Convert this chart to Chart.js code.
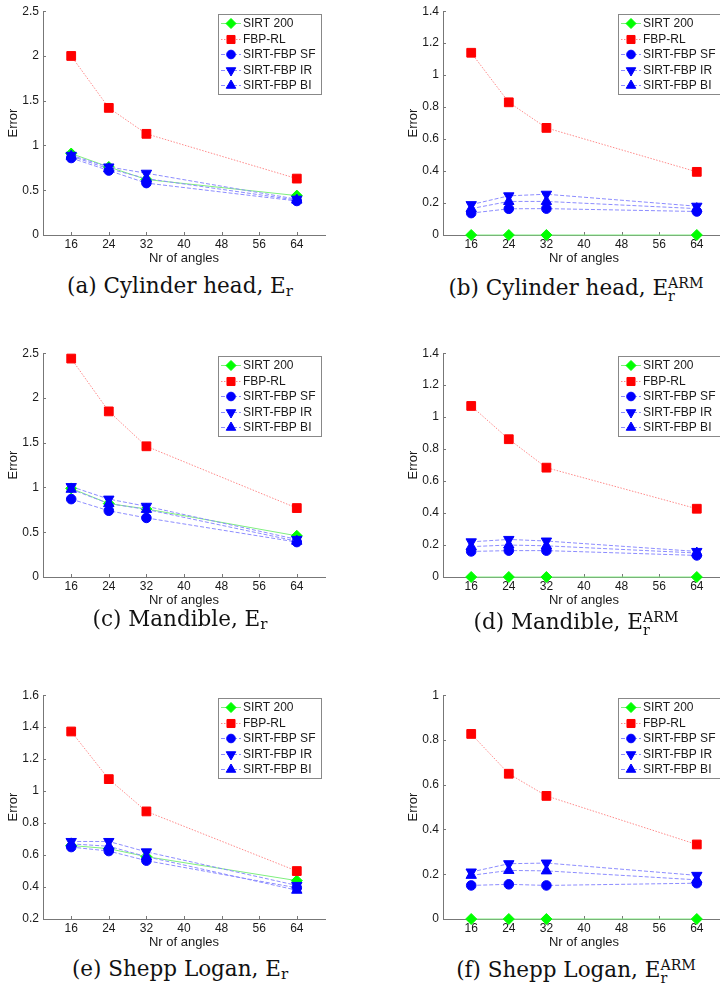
<!DOCTYPE html>
<html>
<head>
<meta charset="utf-8">
<script src="https://cdn.jsdelivr.net/npm/chart.js@4.4.1/dist/chart.umd.min.js"></script>
<style>
html, body { margin: 0; padding: 0; background: #fff; overflow: hidden; }
#page { position: relative; width: 720px; height: 986px; overflow: hidden; }
canvas { position: absolute; }
.cap { position: absolute; width: 360px; text-align: center; font-family: "DejaVu Serif", serif; font-size: 21.5px; line-height: 26px; color: #111; white-space: nowrap; }
.cap sub { font-size: 0.7em; vertical-align: -0.2em; line-height: 0; }
.ss { display: inline-block; font-size: 0.66em; line-height: 0.9; vertical-align: -6px; text-align: left; }
</style>
</head>
<body>
<div id="page">
<canvas id="cA" width="340" height="266" style="left:0;top:0"></canvas>
<canvas id="cB" width="340" height="266" style="left:400px;top:0"></canvas>
<canvas id="cC" width="340" height="266" style="left:0;top:342px"></canvas>
<canvas id="cD" width="340" height="266" style="left:400px;top:342px"></canvas>
<canvas id="cE" width="340" height="266" style="left:0;top:684px"></canvas>
<canvas id="cF" width="340" height="266" style="left:400px;top:684px"></canvas>
<div class="cap" style="left:0;top:273px">(a) Cylinder head, E<sub>r</sub></div>
<div class="cap" style="left:396px;top:275px">(b) Cylinder head, E<span class="ss">ARM<br>r</span></div>
<div class="cap" style="left:0;top:606px">(c) Mandible, E<sub>r</sub></div>
<div class="cap" style="left:396px;top:609px">(d) Mandible, E<span class="ss">ARM<br>r</span></div>
<div class="cap" style="left:0;top:956px">(e) Shepp Logan, E<sub>r</sub></div>
<div class="cap" style="left:396px;top:957px">(f) Shepp Logan, E<span class="ss">ARM<br>r</span></div>
</div>
<script>
var angles = [16, 24, 32, 64];
var xTicks = [16, 24, 32, 40, 48, 56, 64];
var seriesNames = ['SIRT 200', 'FBP-RL', 'SIRT-FBP SF', 'SIRT-FBP IR', 'SIRT-FBP BI'];

// (a) Cylinder head, Er
var cylSirt = [0.91, 0.76, 0.62, 0.44];
var cylFbp = [2.0, 1.42, 1.13, 0.63];
var cylSF = [0.86, 0.72, 0.58, 0.38];
var cylIR = [0.89, 0.76, 0.69, 0.40];
var cylBI = [0.88, 0.74, 0.63, 0.39];
var cylTicks = [0, 0.5, 1, 1.5, 2, 2.5];

// (b) Cylinder head, Er ARM
var cylArmSirt = [0, 0, 0, 0];
var cylArmFbp = [1.14, 0.83, 0.67, 0.395];
var cylArmSF = [0.137, 0.164, 0.165, 0.147];
var cylArmIR = [0.19, 0.245, 0.255, 0.18];
var cylArmBI = [0.165, 0.21, 0.21, 0.165];
var armTicks = [0, 0.2, 0.4, 0.6, 0.8, 1, 1.2, 1.4];

// (c) Mandible, Er
var manSirt = [0.99, 0.82, 0.76, 0.46];
var manFbp = [2.44, 1.85, 1.46, 0.77];
var manSF = [0.87, 0.74, 0.66, 0.39];
var manIR = [1.01, 0.87, 0.79, 0.42];
var manBI = [0.98, 0.82, 0.755, 0.40];

// (d) Mandible, Er ARM
var manArmSirt = [0, 0, 0, 0];
var manArmFbp = [1.07, 0.862, 0.684, 0.427];
var manArmSF = [0.16, 0.165, 0.165, 0.135];
var manArmIR = [0.22, 0.235, 0.225, 0.16];
var manArmBI = [0.19, 0.20, 0.195, 0.15];

// (e) Shepp Logan, Er
var sheSirt = [0.66, 0.64, 0.59, 0.44];
var sheFbp = [1.373, 1.075, 0.873, 0.50];
var sheSF = [0.65, 0.625, 0.565, 0.395];
var sheIR = [0.685, 0.685, 0.62, 0.41];
var sheBI = [0.67, 0.655, 0.59, 0.38];
var sheTicks = [0.2, 0.4, 0.6, 0.8, 1, 1.2, 1.4, 1.6];

// (f) Shepp Logan, Er ARM
var sheArmSirt = [0, 0, 0, 0];
var sheArmFbp = [0.827, 0.649, 0.55, 0.333];
var sheArmSF = [0.15, 0.155, 0.15, 0.16];
var sheArmIR = [0.21, 0.247, 0.25, 0.195];
var sheArmBI = [0.195, 0.217, 0.215, 0.175];
var sheArmTicks = [0, 0.2, 0.4, 0.6, 0.8, 1];

var axisColor = '#777';
var textColor = '#1a1a1a';
var fontName = '"Liberation Sans", Arial, sans-serif';

// marker + line look for each series, same order as seriesNames
var looks = [
  { mark: '#00ff00', line: '#7fef7f', dash: [], style: 'rectRot', r: 5.5, rot: 0 },
  { mark: '#ff0000', line: '#ff8a8a', dash: [1.5, 1.5], style: 'rect', r: 6.2, rot: 0 },
  { mark: '#0000ff', line: '#8c8cff', dash: [4, 2], style: 'circle', r: 4.8, rot: 0 },
  { mark: '#0000ff', line: '#8c8cff', dash: [4, 2], style: 'triangle', r: 6, rot: 180 },
  { mark: '#0000ff', line: '#8c8cff', dash: [4, 2], style: 'triangle', r: 6, rot: 0 }
];

// small tick marks pointing into the plot, like matlab
var innerTicks = {
  id: 'innerTicks',
  beforeDatasetsDraw: function(chart) {
    var ctx = chart.ctx, a = chart.chartArea;
    var sx = chart.scales.x, sy = chart.scales.y;
    ctx.save();
    ctx.strokeStyle = axisColor;
    ctx.lineWidth = 1;
    ctx.beginPath();
    sx.ticks.forEach(function(t) {
      var px = Math.round(sx.getPixelForValue(t.value)) + 0.5;
      ctx.moveTo(px, a.bottom);
      ctx.lineTo(px, a.bottom - 3);
    });
    sy.ticks.forEach(function(t) {
      var py = Math.round(sy.getPixelForValue(t.value)) + 0.5;
      ctx.moveTo(a.left, py);
      ctx.lineTo(a.left + 3, py);
    });
    ctx.stroke();
    ctx.restore();
  }
};

// legend box in the top right corner of the axes
var legendBox = {
  id: 'legendBox',
  afterDatasetsDraw: function(chart) {
    var ctx = chart.ctx, a = chart.chartArea;
    var w = 104, h = 81;
    var x0 = Math.round(a.right - 3 - w), y0 = Math.round(a.top + 3);
    ctx.save();
    ctx.fillStyle = '#fff';
    ctx.fillRect(x0, y0, w, h);
    ctx.strokeStyle = '#888';
    ctx.lineWidth = 1;
    ctx.strokeRect(x0 + 0.5, y0 + 0.5, w - 1, h - 1);
    ctx.font = '12px ' + fontName;
    ctx.textBaseline = 'middle';
    chart.data.datasets.forEach(function(ds, i) {
      var y = Math.round(y0 + 9 + i * 15.5) + 0.5;
      ctx.strokeStyle = ds.borderColor;
      ctx.setLineDash(ds.borderDash);
      ctx.beginPath();
      ctx.moveTo(x0 + 3, y);
      ctx.lineTo(x0 + 23, y);
      ctx.stroke();
      ctx.setLineDash([]);
      ctx.fillStyle = ds.pointBackgroundColor;
      ctx.strokeStyle = ds.pointBorderColor;
      Chart.helpers.drawPoint(ctx, { pointStyle: ds.pointStyle, radius: ds.pointRadius - 0.5, rotation: ds.pointRotation, borderWidth: 1 }, x0 + 13, y);
      ctx.fillStyle = textColor;
      ctx.fillText(ds.label, x0 + 25, y + 0.5);
    });
    ctx.restore();
  }
};

function makePanel(id, yMin, yMax, yTicks, values) {
  var datasets = values.map(function(vals, i) {
    var lk = looks[i];
    return {
      label: seriesNames[i],
      data: angles.map(function(x, j) { return { x: x, y: vals[j] }; }),
      borderColor: lk.line,
      borderWidth: 1,
      borderDash: lk.dash,
      pointStyle: lk.style,
      pointRadius: lk.r,
      pointRotation: lk.rot,
      pointBackgroundColor: lk.mark,
      pointBorderColor: lk.mark,
      pointBorderWidth: 1,
      tension: 0,
      clip: false,
      order: 5 - i
    };
  });
  var tickFont = { family: fontName, size: 12 };
  var titleFont = { family: fontName, size: 13 };
  return new Chart(document.getElementById(id), {
    type: 'line',
    data: { datasets: datasets },
    options: {
      responsive: false,
      animation: false,
      devicePixelRatio: 1,
      events: [],
      layout: { padding: { top: 11, left: 0, right: 15, bottom: 0 } },
      plugins: { legend: { display: false }, tooltip: { enabled: false } },
      scales: {
        x: {
          type: 'linear',
          min: 10,
          max: 70,
          afterBuildTicks: function(s) { s.ticks = xTicks.map(function(v) { return { value: v }; }); },
          afterFit: function(s) { s.height = 31; },
          grid: { display: false, drawTicks: false },
          border: { color: axisColor, width: 1 },
          ticks: { font: tickFont, color: textColor, padding: 2, autoSkip: false, maxRotation: 0 },
          title: { display: true, text: 'Nr of angles', font: titleFont, color: textColor, padding: 0 }
        },
        y: {
          min: yMin,
          max: yMax,
          afterBuildTicks: function(s) { s.ticks = yTicks.map(function(v) { return { value: v }; }); },
          afterFit: function(s) { s.width = 43; },
          grid: { display: false, drawTicks: false },
          border: { color: axisColor, width: 1 },
          ticks: {
            font: tickFont, color: textColor, padding: 4, autoSkip: false,
            callback: function(v) { return String(+v.toFixed(2)); }
          },
          title: { display: true, text: 'Error', font: titleFont, color: textColor, padding: { top: 6, bottom: 0 } }
        }
      }
    },
    plugins: [innerTicks, legendBox]
  });
}

makePanel('cA', 0, 2.5, cylTicks, [cylSirt, cylFbp, cylSF, cylIR, cylBI]);
makePanel('cB', 0, 1.4, armTicks, [cylArmSirt, cylArmFbp, cylArmSF, cylArmIR, cylArmBI]);
makePanel('cC', 0, 2.5, cylTicks, [manSirt, manFbp, manSF, manIR, manBI]);
makePanel('cD', 0, 1.4, armTicks, [manArmSirt, manArmFbp, manArmSF, manArmIR, manArmBI]);
makePanel('cE', 0.2, 1.6, sheTicks, [sheSirt, sheFbp, sheSF, sheIR, sheBI]);
makePanel('cF', 0, 1, sheArmTicks, [sheArmSirt, sheArmFbp, sheArmSF, sheArmIR, sheArmBI]);
</script>
</body>
</html>
